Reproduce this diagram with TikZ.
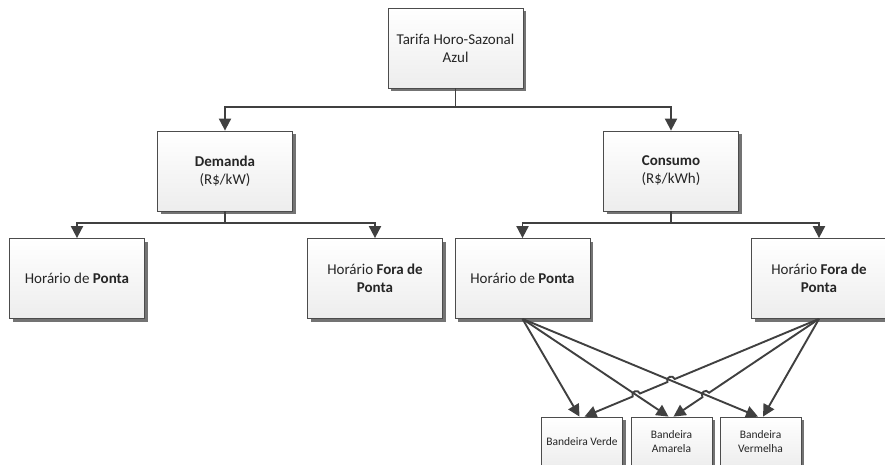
\documentclass[tikz,border=0pt]{standalone}
\usepackage{fontspec}
\setmainfont{Carlito}
\usetikzlibrary{arrows.meta,shadows,calc,intersections}

\tikzset{
  box/.style={draw=black!70, line width=0.8pt, top color=white, bottom color=black!7,
    drop shadow={shadow xshift=3pt, shadow yshift=-3pt, fill=black!55, opacity=1},
    minimum width=135pt, minimum height=80pt, inner sep=2pt, align=center,
    text=black!85, font=\fontsize{15}{18}\selectfont},
  flag/.style={box, minimum width=81pt, minimum height=50pt,
    font=\fontsize{11.5}{14}\selectfont},
  conn/.style={draw=black!75, line width=1.9pt,
    -{Triangle[length=12pt,width=12pt]}},
}

\begin{document}
\begin{tikzpicture}[x=1pt,y=-1pt]
\useasboundingbox (0,0) rectangle (885,464);

% tariff tree
\node[box] (top)  at (455.5,48)  {Tarifa Horo-Sazonal\\Azul};
\node[box] (dem)  at (225,171)   {\textbf{Demanda}\\(R\$/kW)};
\node[box] (cons) at (671,171)   {\textbf{Consumo}\\(R\$/kWh)};
\node[box] (hpd)  at (77,278.5)  {Horário de \textbf{Ponta}};
\node[box] (hfd)  at (375,278.5) {Horário \textbf{Fora de}\\\textbf{Ponta}};
\node[box] (hpc)  at (522.5,278.5) {Horário de \textbf{Ponta}};
\node[box] (hfc)  at (819,278.5) {Horário \textbf{Fora de}\\\textbf{Ponta}};

% tariff flags
\node[flag] (bv)  at (582,442)   {Bandeira Verde};
\node[flag] (ba)  at (671.5,442) {Bandeira\\Amarela};
\node[flag] (bvm) at (760.5,442) {Bandeira\\Vermelha};

% branch junctions
\coordinate (j1) at ($(top.south)+(0,19)$);
\coordinate (j2) at ($(dem.south)+(0,11.5)$);
\coordinate (j3) at ($(cons.south)+(0,11.5)$);

\draw[conn] (top.south) -- (j1) -| (dem.north);
\draw[conn] (j1) -| (cons.north);
\draw[conn] (dem.south) -- (j2) -| (hpd.north);
\draw[conn] (j2) -| (hfd.north);
\draw[conn] (cons.south) -- (j3) -| (hpc.north);
\draw[conn] (j3) -| (hfc.north);

% arrow tips on the flags
\coordinate (vdL) at ($(bv.north)+(-2.5,0)$);
\coordinate (vdR) at ($(bv.north)+(2.5,0)$);
\coordinate (amL) at ($(ba.north)+(-3,0)$);
\coordinate (amR) at ($(ba.north)+(2,0)$);
\coordinate (vmL) at ($(bvm.north)+(-2.5,0)$);
\coordinate (vmR) at ($(bvm.north)+(2.5,0)$);

% crossing points
\path[name path=lam] (hpc.south) -- (amL);
\path[name path=lvm] (hpc.south) -- (vmL);
\path[name path=rvd] (hfc.south) -- (vdR);
\path[name path=ram] (hfc.south) -- (amR);
\path[name intersections={of=rvd and lvm, by=xa}];
\path[name intersections={of=rvd and lam, by=xb}];
\path[name intersections={of=ram and lvm, by=xc}];

\coordinate (xa1) at ($(xa)!4pt!(hfc.south)$);
\coordinate (xa2) at ($(xa)!4pt!(vdR)$);
\coordinate (xb1) at ($(xb)!4pt!(hfc.south)$);
\coordinate (xb2) at ($(xb)!4pt!(vdR)$);
\coordinate (xc1) at ($(xc)!4pt!(hfc.south)$);
\coordinate (xc2) at ($(xc)!4pt!(amR)$);

% peak-hour consumption to flags
\draw[conn] (hpc.south) -- (vdL);
\draw[conn] (hpc.south) -- (amL);
\draw[conn] (hpc.south) -- (vmL);

% off-peak consumption to flags, hopping over the crossings
\draw[conn] (hfc.south) -- (xa1)
  .. controls ($(xa1)!5.3pt!-90:(xa2)$) and ($(xa2)!5.3pt!90:(xa1)$) .. (xa2)
  -- (xb1)
  .. controls ($(xb1)!5.3pt!-90:(xb2)$) and ($(xb2)!5.3pt!90:(xb1)$) .. (xb2)
  -- (vdR);
\draw[conn] (hfc.south) -- (xc1)
  .. controls ($(xc1)!5.3pt!-90:(xc2)$) and ($(xc2)!5.3pt!90:(xc1)$) .. (xc2)
  -- (amR);
\draw[conn] (hfc.south) -- (vmR);
\end{tikzpicture}
\end{document}
